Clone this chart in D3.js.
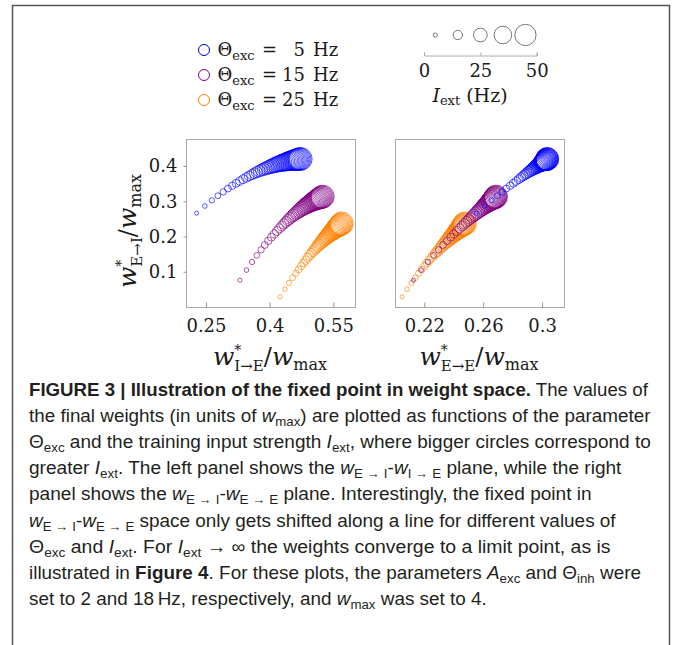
<!DOCTYPE html>
<html>
<head>
<meta charset="utf-8">
<script src="https://cdn.jsdelivr.net/npm/d3@7"></script>
<style>
  body { margin: 0; background: #fff; }
  svg { display: block; }
  text { white-space: pre; }
</style>
</head>
<body>
<svg id="fig" width="673" height="645"></svg>
<script>
// Training input strength I_ext (Hz) for each fixed point
const iext = [5,6,7,8,9,10,11,12,13,14,15,16,17,18,19,20,21,22,23,24,25,26,27,28,29,30,
              31,32,33,34,35,36,37,38,39,40,41,42,43,44,45,46,47,48,49,50];

// Θexc = 5 Hz
const blueWIE = [.2280,.2474,.2638,.2780,.2906,.3018,.3119,.3212,.3297,.3376,.3449,.3518,.3582,.3643,.3700,.3755,.3807,.3857,.3904,.3949,.3993,.4034,.4074,.4113,.4150,.4187,.4221,.4255,.4288,.4320,.4351,.4380,.4410,.4438,.4466,.4493,.4519,.4545,.4570,.4594,.4618,.4641,.4664,.4687,.4708,.4730];
const blueWEI = [.2661,.2865,.3026,.3157,.3267,.3360,.3441,.3511,.3572,.3627,.3675,.3719,.3759,.3794,.3827,.3857,.3884,.3909,.3932,.3953,.3973,.3991,.4008,.4024,.4039,.4052,.4065,.4077,.4088,.4099,.4109,.4118,.4126,.4134,.4142,.4149,.4156,.4162,.4168,.4173,.4179,.4183,.4188,.4192,.4196,.4200];
const blueWEE = [.2553,.2610,.2657,.2696,.2729,.2757,.2783,.2805,.2824,.2842,.2857,.2872,.2885,.2896,.2907,.2918,.2927,.2935,.2943,.2950,.2957,.2963,.2969,.2974,.2979,.2984,.2988,.2993,.2996,.3000,.3004,.3007,.3010,.3012,.3015,.3018,.3020,.3022,.3024,.3026,.3028,.3030,.3031,.3033,.3034,.3035];

// Θexc = 15 Hz
const purpleWIE = [.3300,.3454,.3585,.3698,.3798,.3887,.3968,.4041,.4109,.4172,.4230,.4285,.4336,.4385,.4431,.4474,.4515,.4555,.4592,.4628,.4663,.4696,.4728,.4759,.4789,.4818,.4845,.4872,.4898,.4923,.4948,.4972,.4995,.5018,.5040,.5061,.5082,.5102,.5122,.5142,.5161,.5179,.5198,.5215,.5233,.5250];
const purpleWEI = [.0760,.1047,.1276,.1465,.1623,.1759,.1878,.1981,.2073,.2156,.2230,.2297,.2358,.2414,.2465,.2512,.2556,.2597,.2635,.2669,.2702,.2733,.2762,.2789,.2815,.2839,.2861,.2883,.2903,.2922,.2941,.2958,.2974,.2990,.3005,.3019,.3033,.3046,.3058,.3070,.3081,.3092,.3102,.3112,.3121,.3130];
const purpleWEE = [.2126,.2179,.2224,.2263,.2297,.2328,.2355,.2379,.2401,.2422,.2440,.2457,.2473,.2487,.2501,.2513,.2525,.2536,.2546,.2556,.2565,.2573,.2581,.2589,.2596,.2603,.2609,.2615,.2621,.2627,.2632,.2637,.2642,.2646,.2651,.2655,.2659,.2663,.2666,.2670,.2673,.2676,.2679,.2682,.2685,.2687];

// Θexc = 25 Hz
const orangeWIE = [.4244,.4359,.4457,.4541,.4616,.4682,.4743,.4798,.4848,.4895,.4939,.4979,.5018,.5054,.5088,.5121,.5151,.5181,.5209,.5236,.5262,.5287,.5310,.5333,.5356,.5377,.5398,.5418,.5437,.5456,.5475,.5492,.5510,.5526,.5543,.5559,.5575,.5590,.5605,.5619,.5633,.5647,.5661,.5674,.5687,.5700];
const orangeWEI = [.0288,.0506,.0683,.0831,.0957,.1067,.1164,.1251,.1328,.1398,.1462,.1521,.1575,.1625,.1672,.1715,.1756,.1794,.1830,.1864,.1896,.1926,.1955,.1982,.2008,.2033,.2057,.2080,.2101,.2122,.2142,.2162,.2180,.2198,.2215,.2232,.2248,.2263,.2278,.2293,.2306,.2320,.2333,.2346,.2358,.2370];
const orangeWEE = [.2049,.2083,.2113,.2139,.2162,.2182,.2201,.2219,.2234,.2249,.2262,.2275,.2287,.2298,.2308,.2318,.2327,.2335,.2344,.2352,.2359,.2366,.2373,.2379,.2386,.2392,.2397,.2403,.2408,.2413,.2418,.2423,.2428,.2432,.2436,.2441,.2445,.2449,.2452,.2456,.2460,.2463,.2466,.2470,.2473,.2476];

const thetaLabels = ["5", "15", "25"];
const seriesColors = ["#0000ff", "#800080", "#ff8000"];

const leftXTicks = [0.25, 0.4, 0.55];
const leftXTickLabels = ["0.25", "0.4", "0.55"];
const rightXTicks = [0.22, 0.26, 0.3];
const rightXTickLabels = ["0.22", "0.26", "0.3"];
const yTicks = [0.1, 0.2, 0.3, 0.4];
const yTickLabels = ["0.1", "0.2", "0.3", "0.4"];

const sizeLegendValues = [5, 15, 25, 35, 45];
const sizeAxisTicks = [0, 25, 50];
const sizeAxisTickLabels = ["0", "25", "50"];

// ---------------------------------------------------------------------------
const series = [
  { color: seriesColors[0], wIE: blueWIE,   wEI: blueWEI,   wEE: blueWEE },
  { color: seriesColors[1], wIE: purpleWIE, wEI: purpleWEI, wEE: purpleWEE },
  { color: seriesColors[2], wIE: orangeWIE, wEI: orangeWEI, wEE: orangeWEE }
];
const drawOrder = [2, 1, 0];

const svg = d3.select("#fig");
const serif = "'DejaVu Serif', serif";
const ink = "#1a1a1a";

// outer figure frame
svg.append("path")
  .attr("d", "M12.5,660 V5.5 H669.5 V660")
  .attr("fill", "none").attr("stroke", "#555").attr("stroke-width", 1.5);

const yScale = d3.scaleLinear().domain([0, 0.4766]).range([307, 139]);
const xLeft = d3.scaleLinear().domain([0.203, 0.601]).range([186, 355]);
const xRight = d3.scaleLinear().domain([0.2001, 0.3149]).range([395, 564]);
const rScale = d3.scalePow().exponent(0.75).domain([0, 50]).range([0, 11.5]);

function styleAxis(g) {
  g.select(".domain").remove();
  g.selectAll(".tick line").attr("stroke", "#999");
  g.selectAll(".tick text").attr("font-family", serif).attr("font-size", 18).attr("fill", ink);
}

function panel(xScale, xKey, xTicks, xTickLabels, showY) {
  const [x0, x1] = xScale.range();
  const [y0, y1] = yScale.range();
  svg.append("rect")
    .attr("x", x0 + 0.5).attr("y", y1 + 0.5)
    .attr("width", x1 - x0).attr("height", y0 - y1)
    .attr("fill", "none").attr("stroke", "#aaa").attr("stroke-width", 1);

  svg.append("g")
    .attr("transform", `translate(0,${y0 + 0.5})`)
    .call(d3.axisBottom(xScale).tickValues(xTicks)
      .tickFormat((d, i) => xTickLabels[i]).tickSize(-5).tickPadding(11.5))
    .call(styleAxis);

  if (showY) {
    svg.append("g")
      .attr("transform", `translate(${x0 + 0.5},0)`)
      .call(d3.axisLeft(yScale).tickValues(yTicks)
        .tickFormat((d, i) => yTickLabels[i]).tickSize(3).tickPadding(6))
      .call(styleAxis);
  }

  drawOrder.forEach(si => {
    const s = series[si];
    const pts = iext.map((I, i) => ({ I, x: s[xKey][i], y: s.wEI[i] }));
    svg.append("g").selectAll("circle").data(pts).join("circle")
      .attr("cx", d => xScale(d.x))
      .attr("cy", d => yScale(d.y))
      .attr("r", d => rScale(d.I))
      .attr("fill", "none")
      .attr("stroke", s.color)
      .attr("stroke-width", 0.65);
  });
}

panel(xLeft, "wIE", leftXTicks, leftXTickLabels, true);
panel(xRight, "wEE", rightXTicks, rightXTickLabels, false);

// axis titles: w*_{a→b}/w_max
function weightLabel(sel, sub) {
  sel.attr("font-family", serif).attr("fill", ink).attr("text-anchor", "middle");
  sel.append("tspan").attr("font-style", "italic").attr("font-size", 25).text("w");
  sel.append("tspan").attr("font-size", 14).attr("dy", -10).text("*");
  sel.append("tspan").attr("font-size", 15).attr("dx", -7).attr("dy", 16).text(sub);
  sel.append("tspan").attr("font-size", 24).attr("dy", -6).text("/");
  sel.append("tspan").attr("font-style", "italic").attr("font-size", 25).text("w");
  sel.append("tspan").attr("font-size", 16).attr("dy", 5).text("max");
}
weightLabel(svg.append("text").attr("x", 270).attr("y", 365), "I\u2192E");
weightLabel(svg.append("text").attr("x", 479).attr("y", 365), "E\u2192E");
weightLabel(svg.append("text").attr("transform", "translate(136,231) rotate(-90)"), "E\u2192I");

// colour legend
thetaLabels.forEach((lab, i) => {
  const cy = 50 + 25 * i, base = cy + 6;
  svg.append("circle").attr("cx", 204).attr("cy", cy).attr("r", 5.5)
    .attr("fill", "none").attr("stroke", seriesColors[i]).attr("stroke-width", 1);
  const g = svg.append("g").attr("font-family", serif).attr("fill", ink);
  const t = g.append("text").attr("x", 217.5).attr("y", base).attr("font-size", 18);
  t.append("tspan").text("\u0398");
  t.append("tspan").attr("font-size", 13).attr("dy", 3.5).text("exc");
  g.append("text").attr("x", 262).attr("y", base).attr("font-size", 18).text("=");
  g.append("text").attr("x", 305).attr("y", base).attr("font-size", 18)
    .attr("text-anchor", "end").text(lab);
  g.append("text").attr("x", 313).attr("y", base).attr("font-size", 18).text("Hz");
});

// marker size legend
const sizeX = d3.scaleLinear().domain([0, 50]).range([424, 536.7]);
svg.append("g").selectAll("circle").data(sizeLegendValues).join("circle")
  .attr("cx", d => sizeX(d)).attr("cy", 35).attr("r", d => rScale(d))
  .attr("fill", "none").attr("stroke", "#777").attr("stroke-width", 1);
svg.append("g")
  .attr("transform", "translate(0,55.5)")
  .call(d3.axisBottom(sizeX).tickValues(sizeAxisTicks)
    .tickFormat((d, i) => sizeAxisTickLabels[i]).tickSize(-3).tickPadding(8.5))
  .call(g => {
    g.select(".domain").attr("stroke", "#aaa");
    g.selectAll(".tick line").attr("stroke", "#aaa");
    g.selectAll(".tick text").attr("font-family", serif).attr("font-size", 18).attr("fill", ink);
  });
const il = svg.append("text").attr("x", 470).attr("y", 101.5).attr("text-anchor", "middle")
  .attr("font-family", serif).attr("font-size", 19).attr("fill", ink);
il.append("tspan").attr("font-style", "italic").text("I");
il.append("tspan").attr("font-size", 13).attr("dy", 3.5).text("ext");
il.append("tspan").attr("dy", -3.5).text(" (Hz)");

// caption
const captionLines = [
  [["FIGURE 3 | Illustration of the fixed point in weight space.", "b"], [" The values of", ""]],
  [["the final weights (in units of ", ""], ["w", "i"], ["max", "s"], [") are plotted as functions of the parameter", ""]],
  [["\u0398", ""], ["exc", "s"], [" and the training input strength ", ""], ["I", "i"], ["ext", "s"], [", where bigger circles correspond to", ""]],
  [["greater ", ""], ["I", "i"], ["ext", "s"], [". The left panel shows the ", ""], ["w", "i"], ["E \u2192 I", "s"], ["-", ""], ["w", "i"], ["I \u2192 E", "s"], [" plane, while the right", ""]],
  [["panel shows the ", ""], ["w", "i"], ["E \u2192 I", "s"], ["-", ""], ["w", "i"], ["E \u2192 E", "s"], [" plane. Interestingly, the fixed point in", ""]],
  [["w", "i"], ["E \u2192 I", "s"], ["-", ""], ["w", "i"], ["E \u2192 E", "s"], [" space only gets shifted along a line for different values of", ""]],
  [["\u0398", ""], ["exc", "s"], [" and ", ""], ["I", "i"], ["ext", "s"], [". For ", ""], ["I", "i"], ["ext", "s"], [" \u2192 \u221e the weights converge to a limit point, as is", ""]],
  [["illustrated in ", ""], ["Figure 4", "b"], [". For these plots, the parameters ", ""], ["A", "i"], ["exc", "s"], [" and \u0398", ""], ["inh", "s"], [" were", ""]],
  [["set to 2 and 18\u2009Hz, respectively, and ", ""], ["w", "i"], ["max", "s"], [" was set to 4.", ""]]
];
const captionRight = [649, 651, 651, 622, 592, 617, 611, 641, 487];
const captionLeft = 29;

captionLines.forEach((segs, li) => {
  const t = svg.append("text")
    .attr("font-family", "'Liberation Sans Narrow', 'Liberation Sans', Arial, sans-serif")
    .attr("font-size", 18.5).attr("fill", "#231f20");
  let shift = 0;
  segs.forEach(([str, kind]) => {
    const ts = t.append("tspan").text(str);
    const target = kind === "s" ? 4 : 0;
    if (target !== shift) { ts.attr("dy", target - shift); shift = target; }
    if (kind === "b") ts.attr("font-weight", "bold");
    if (kind === "i") ts.attr("font-style", "italic");
    if (kind === "s") ts.attr("font-size", 13);
  });
  const w = t.node().getBBox().width;
  const k = (captionRight[li] - captionLeft) / w;
  t.attr("transform", `translate(${captionLeft},${395.5 + 26.2 * li}) scale(${k},1)`);
});
</script>
</body>
</html>
